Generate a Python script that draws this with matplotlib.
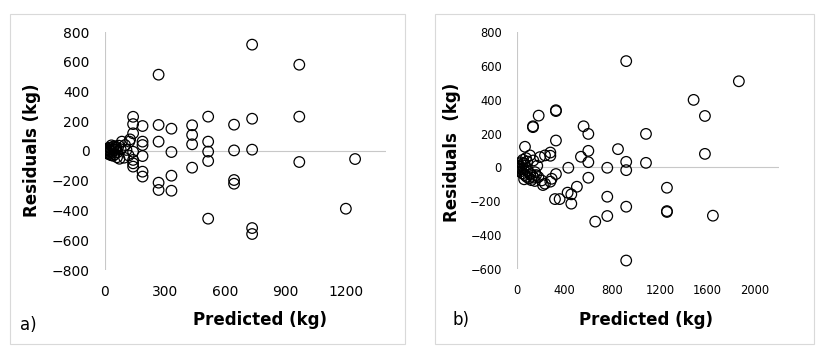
import matplotlib
matplotlib.use("Agg")
import matplotlib.pyplot as plt
from matplotlib.patches import Rectangle

# panel a) predicted vs residuals (kg)
a_pred = [267, 733, 968, 968, 968, 1246, 1200,
          733, 733, 733, 733,
          514, 514, 514, 514, 514,
          643, 643, 643, 643,
          434, 434, 434, 434,
          331, 331, 331, 331,
          267, 267, 267, 267,
          187, 187, 187, 187, 187, 187,
          140, 140, 140, 140, 140, 140, 140,
          121, 84, 107, 55,
          0, 3, 5, 8, 10, 12, 15, 18, 20, 22, 25, 28, 30, 32, 35, 38, 40,
          42, 45, 48, 52, 56, 60, 62, 68, 72, 78, 95, 100, 118, 125]
a_resid = [513, 715, 580, 231, -74, -54, -388,
           217, 9, -518, -558,
           231, 63, -4, -67, -455,
           177, 4, -195, -220,
           173, 108, 45, -112,
           150, -7, -166, -267,
           175, 63, -213, -262,
           168, 63, 40, -34, -139, -172,
           230, 181, 119, -5, -60, -83, -105,
           63, 63, 7, 29,
           0, 8, -6, 12, -12, 4, -18, 10, 22, -22, 2, 18, -28, 38, -6, 26, -32,
           12, 32, -22, 6, 20, -42, -8, 36, -52, 12, -45, 40, -30, 78]

# panel b)
b_pred = [917, 1863, 1483, 1578, 1578, 1645, 1259, 1259, 1259,
          1083, 1083, 917, 917, 917, 917, 848,
          758, 758, 758, 657,
          599, 599, 599, 599, 559, 537, 503, 456, 456, 425, 431, 358, 319,
          327, 327, 327, 327, 182, 134, 134, 67, 280, 280, 280, 218,
          109, 193, 235, 291, 235, 207, 179, 151, 137,
          0, 5, 8, 12, 15, 20, 25, 30, 35, 40, 45, 50, 55, 60, 65, 70,
          80, 85, 90, 100, 110, 120, 130, 140, 150, 160, 170, 75, 60]
b_resid = [628, 509, 399, 304, 80, -285, -120, -263, -258,
           198, 27, 33, -16, -232, -550, 108,
           -2, -173, -287, -320,
           198, 98, 31, -61, 243, 63, -114, -214, -159, -149, -2, -187, -187,
           -39, 159, 338, 333, 306, 243, 238, 122, 88, 69, -84, -104,
           71, 61, 71, -67, -96, -77, -57, -28, 41,
           0, 10, -8, 20, -15, 5, -25, 30, -10, 15, -35, 45, -5, 25, -45, 10,
           -55, 35, -20, -65, -40, -75, -50, -60, -80, -45, 10, 55, -70]

a_xticks = [0, 300, 600, 900, 1200]
a_yticks = [-800, -600, -400, -200, 0, 200, 400, 600, 800]
b_xticks = [0, 400, 800, 1200, 1600, 2000]
b_yticks = [-600, -400, -200, 0, 200, 400, 600, 800]

W, H = 820, 354
fig = plt.figure(figsize=(W / 100, H / 100), dpi=100)

# panel frames
for x0, x1 in [(10, 405), (435, 814)]:
    fig.patches.append(Rectangle((x0 / W, 1 - 344 / H), (x1 - x0) / W, 330 / H,
                                 transform=fig.transFigure, fill=False,
                                 edgecolor="#d9d9d9", lw=0.8))

axis_col = "#c8c8c8"


def panel(rect, x, y, xlim, ylim, xticks, yticks, fs):
    ax = fig.add_axes(rect)
    ax.scatter(x, y, s=58, facecolors="none", edgecolors="black", linewidths=0.9, zorder=3)
    ax.set_xlim(*xlim)
    ax.set_ylim(*ylim)
    ax.axhline(0, color=axis_col, lw=0.8, zorder=1)
    ax.axvline(0, color=axis_col, lw=0.8, zorder=1)
    for s in ax.spines.values():
        s.set_visible(False)
    ax.set_xticks(xticks)
    ax.set_yticks(yticks)
    ax.tick_params(length=0, labelsize=fs, pad=11)
    ax.patch.set_alpha(0)
    return ax


panel([105 / W, 1 - 270 / H, 281 / W, 238 / H], a_pred, a_resid,
      (0, 1400), (-800, 800), a_xticks, a_yticks, 10)
panel([517 / W, 1 - 269 / H, 262 / W, 237 / H], b_pred, b_resid,
      (0, 2200), (-600, 800), b_xticks, b_yticks, 8.3)

lab = dict(fontweight="bold", fontsize=12, ha="center", va="center")
fig.text(260 / W, 1 - 320 / H, "Predicted (kg)", **lab)
fig.text(32 / W, 1 - 150 / H, "Residuals (kg)", rotation=90, **lab)
fig.text(646 / W, 1 - 320 / H, "Predicted (kg)", **lab)
fig.text(452 / W, 1 - 152 / H, "Residuals  (kg)", rotation=90, **lab)
fig.text(20 / W, 1 - 325 / H, "a)", fontsize=12, va="center")
fig.text(452 / W, 1 - 320 / H, "b)", fontsize=12, va="center")

fig.savefig("out.png", dpi=100)
